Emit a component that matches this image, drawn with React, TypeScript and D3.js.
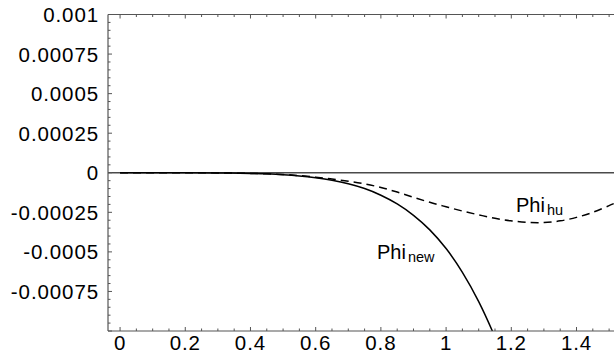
import React from "react";
import * as d3 from "d3";

const xTicks = [0, 0.2, 0.4, 0.6, 0.8, 1, 1.2, 1.4];
const xTickLabels = ["0", "0.2", "0.4", "0.6", "0.8", "1", "1.2", "1.4"];
const yTicks = [0.001, 0.00075, 0.0005, 0.00025, 0, -0.00025, -0.0005, -0.00075];
const yTickLabels = ["0.001", "0.00075", "0.0005", "0.00025", "0", "-0.00025", "-0.0005", "-0.00075"];

const newX = [0, 0.1, 0.2, 0.3, 0.4, 0.45, 0.5, 0.55, 0.6, 0.65, 0.7, 0.75, 0.8, 0.85, 0.9, 0.95, 1.0, 1.05, 1.1, 1.15, 1.2];
const newY = [0, 0, 0, -0.000001, -0.000004, -0.000007, -0.000012, -0.00002, -0.000032, -0.000048, -0.00007, -0.0001, -0.000142, -0.000197, -0.000269, -0.000361, -0.000479, -0.000629, -0.000814, -0.001039, -0.0013];

const huX = [0, 0.1, 0.2, 0.3, 0.4, 0.5, 0.55, 0.6, 0.65, 0.7, 0.75, 0.8, 0.85, 0.9, 0.95, 1.0, 1.05, 1.1, 1.15, 1.2, 1.25, 1.3, 1.35, 1.4, 1.45, 1.5, 1.52];
const huY = [0, 0, 0, -0.000001, -0.000004, -0.000011, -0.000018, -0.000028, -0.00004, -0.000053, -0.00007, -0.000093, -0.000122, -0.000155, -0.000187, -0.000215, -0.000242, -0.000266, -0.000288, -0.000304, -0.000314, -0.000315, -0.000304, -0.000282, -0.00025, -0.000208, -0.00019];

const W = 614;
const H = 358;
const left = 108;
const top = 14.5;
const bottom = 331;
const right = 614;

const x = d3.scaleLinear().domain([-0.037, 1.515]).range([left, right]);
const y = d3.scaleLinear().domain([-0.001, 0.001]).range([bottom, top]);

const FONT = "'Liberation Sans', Arial, Helvetica, sans-serif";

export default function App() {
  const lineGen = d3
    .line<[number, number]>()
    .x((d) => x(d[0]))
    .y((d) => y(d[1]))
    .curve(d3.curveCatmullRom.alpha(0.5));

  const newPts: [number, number][] = newX.map((v, i) => [v, newY[i]]);
  const huPts: [number, number][] = huX.map((v, i) => [v, huY[i]]);

  const xMinor = d3.range(0, 1.51, 0.05).map((v) => +v.toFixed(2));
  const yMinor = d3.range(-0.001, 0.00101, 0.00005).map((v) => +v.toFixed(6));
  const isMajorX = (v: number) => Math.abs(v / 0.2 - Math.round(v / 0.2)) < 1e-6;
  const isMajorY = (v: number) => Math.abs(v / 0.00025 - Math.round(v / 0.00025)) < 1e-6;

  const axisColor = "#555";

  return (
    <svg
      width={W}
      height={H}
      style={{ position: "fixed", left: 0, top: 0, background: "#fff" }}
      fontFamily={FONT}
    >
      <defs>
        <clipPath id="plot">
          <rect x={left} y={top} width={right - left} height={bottom - top} />
        </clipPath>
      </defs>
      <rect x={0} y={0} width={W} height={H} fill="#fff" />

      {/* zero line */}
      <line x1={left} x2={right} y1={y(0)} y2={y(0)} stroke="#4a4a4a" strokeWidth={1.6} />

      {/* curves */}
      <g clipPath="url(#plot)">
        <path d={lineGen(huPts) || ""} fill="none" stroke="#000" strokeWidth={1.5} strokeDasharray="8,5" />
        <path d={lineGen(newPts) || ""} fill="none" stroke="#000" strokeWidth={1.5} />
      </g>

      {/* frame */}
      <line x1={left} x2={right} y1={top} y2={top} stroke={axisColor} strokeWidth={1.2} />
      <line x1={left} x2={right} y1={bottom} y2={bottom} stroke={axisColor} strokeWidth={1.2} />
      <line x1={left} x2={left} y1={top} y2={bottom} stroke={axisColor} strokeWidth={1.2} />

      {/* x ticks bottom and top */}
      {xMinor.map((v, i) => {
        const len = isMajorX(v) ? 4 : 2.5;
        return (
          <g key={"xt" + i}>
            <line x1={x(v)} x2={x(v)} y1={bottom} y2={bottom - len} stroke={axisColor} strokeWidth={1} />
            <line x1={x(v)} x2={x(v)} y1={top} y2={top + len} stroke={axisColor} strokeWidth={1} />
          </g>
        );
      })}

      {/* y ticks */}
      {yMinor.map((v, i) => {
        const len = isMajorY(v) ? 4 : 2.5;
        return (
          <line key={"yt" + i} x1={left} x2={left + len} y1={y(v)} y2={y(v)} stroke={axisColor} strokeWidth={1} />
        );
      })}

      {/* x labels */}
      {xTicks.map((v, i) => (
        <text key={"xl" + i} x={x(v)} y={350} textAnchor="middle" fontSize={20.5} letterSpacing={0.9} fill="#000">
          {xTickLabels[i]}
        </text>
      ))}

      {/* y labels */}
      {yTicks.map((v, i) => (
        <text
          key={"yl" + i}
          x={99}
          y={y(v)}
          textAnchor="end"
          dominantBaseline="central"
          fontSize={20.5}
          letterSpacing={0.9}
          fill="#000"
        >
          {yTickLabels[i]}
        </text>
      ))}

      {/* curve labels */}
      <text x={516} y={212} fontSize={20} fill="#000">
        Phi
        <tspan fontSize={14.5} dx={2} dy={3}>hu</tspan>
      </text>
      <text x={377} y={259} fontSize={20} fill="#000">
        Phi
        <tspan fontSize={14.5} dx={2} dy={3}>new</tspan>
      </text>
    </svg>
  );
}
